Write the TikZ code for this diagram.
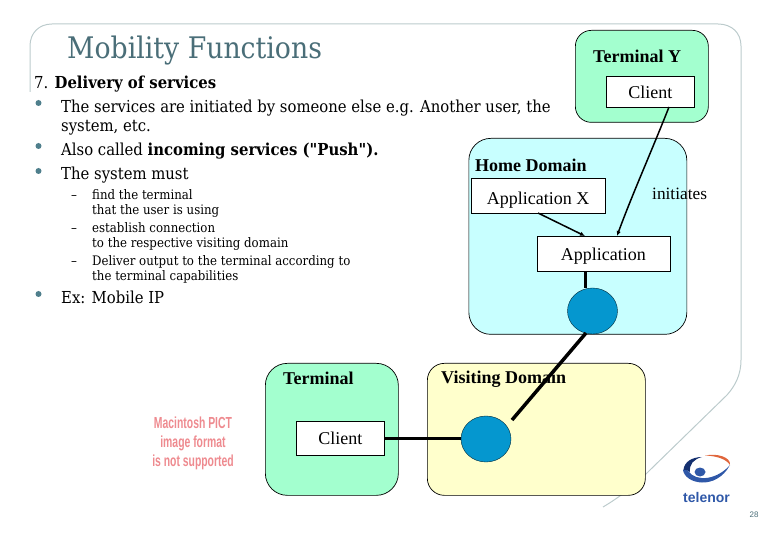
\documentclass[tikz,border=0pt]{standalone}
\usepackage{fontspec}
\setmainfont{Liberation Serif}
\newfontfamily\slidefont[FakeStretch=0.9]{DejaVu Serif}
\newfontfamily\logofont{Liberation Sans}
\newfontfamily\pictfont[FakeStretch=0.65]{Liberation Sans}
\usetikzlibrary{arrows.meta,shapes.geometric}
\definecolor{frameC}{HTML}{BCCBCC}
\definecolor{titleC}{HTML}{4A6E78}
\definecolor{bulletC}{HTML}{4F7F8C}
\definecolor{greenC}{HTML}{A3FFCF}
\definecolor{cyanC}{HTML}{C8FFFF}
\definecolor{yellowC}{HTML}{FFFFCC}
\definecolor{blueC}{HTML}{0597CF}
\definecolor{pictC}{HTML}{EE8A8F}
\definecolor{logoB}{HTML}{2F58A8}
\definecolor{logoD}{HTML}{14306F}
\definecolor{logoR}{HTML}{E0663C}
\tikzset{
  x=1pt,y=-1pt,
  domainbox/.style={draw=black,line width=.7pt,rounded corners=22pt,anchor=north west,inner sep=0pt},
  appbox/.style={draw=black,fill=white,line width=.6pt,anchor=north west,inner sep=0pt,text depth=4pt,font=\fontsize{18}{20}\selectfont},
  hub/.style={draw=black!70!blueC,fill=blueC,ellipse,inner sep=0pt,minimum width=50pt,minimum height=46pt},
  thick link/.style={line width=3pt,black},
  thin link/.style={line width=1.5pt,black,-{Latex[length=5pt,width=4.5pt]}},
  title text/.style={anchor=base west,inner sep=0pt,font=\bfseries\fontsize{18}{20}\selectfont},
  body/.style={anchor=base west,inner sep=0pt,font=\slidefont\fontsize{16.5}{19}\selectfont},
  small/.style={anchor=base west,inner sep=0pt,font=\slidefont\fontsize{13.1}{15}\selectfont},
  bullet/.style={circle,fill=bulletC,inner sep=0pt,minimum size=6pt},
  pict/.style={inner sep=0pt,text=pictC,font=\pictfont\bfseries\fontsize{16}{18}\selectfont}
}
\begin{document}
\begin{tikzpicture}
\useasboundingbox (0,0) rectangle (780,540);
\coordinate (f0) at (30,92);
\draw[frameC,line width=1pt] (f0) -- (30,46) .. controls (30,33) and (39,24) .. (52,24) -- (718,24) .. controls (732,24) and (741,33) .. (741,46) -- (741,360) .. controls (741,375) and (735,386) .. (727,395) -- (650,470) .. controls (635,485) and (620,497) .. (603,507);
\node[anchor=base west,inner sep=0pt,text=titleC,font=\slidefont\fontsize{29.7}{33}\selectfont] (title) at (67,59) {Mobility Functions};
\node[body] (l0) at (34,88.5) {7. \bfseries Delivery of services};
\node[bullet] (b1) at (38.5,103) {};
\node[body] (l1) at (61,113) {The services are initiated by someone else e.g. Another user, the};
\node[body] (l2) at (61,132) {system, etc.};
\node[bullet] (b2) at (38.5,146) {};
\node[body] (l3) at (61,156) {Also called \textbf{incoming services ("Push").}};
\node[bullet] (b3) at (38.5,171) {};
\node[body] (l4) at (61,180) {The system must};
\node[small] (d1) at (71,199.5) {–};
\node[small] (s1) at (92,199.5) {find the terminal};
\node[small] (s2) at (92,215) {that the user is using};
\node[small] (d2) at (71,233) {–};
\node[small] (s3) at (92,233) {establish connection};
\node[small] (s4) at (92,248) {to the respective visiting domain};
\node[small] (d3) at (71,266) {–};
\node[small] (s5) at (92,266) {Deliver output to the terminal according to};
\node[small] (s6) at (92,281) {the terminal capabilities};
\node[bullet] (b4) at (38.5,294) {};
\node[body] (l5) at (61,304) {Ex: Mobile IP};
% domains
\node[domainbox,fill=greenC,minimum width=133pt,minimum height=92pt,rounded corners=16pt] (ty) at (575,30) {};
\node[domainbox,fill=cyanC,minimum width=218pt,minimum height=196pt] (home) at (468.5,138) {};
\node[domainbox,fill=greenC,minimum width=133pt,minimum height=132pt] (term) at (265,363) {};
\node[domainbox,fill=yellowC,minimum width=218pt,minimum height=132pt,rounded corners=17pt] (visit) at (427,363) {};
\node[title text] (tyl) at (593,63) {Terminal Y};
\node[title text] (hdl) at (475,172) {Home Domain};
\node[title text] (tl) at (283,384.5) {Terminal};
\node[title text] (vl) at (441,384) {Visiting Domain};
\node[appbox,text height=18pt,minimum width=88pt,minimum height=31pt] (cy) at (606,76) {Client};
\node[appbox,text height=21pt,minimum width=133.5pt,minimum height=35pt] (ax) at (471,178) {Application X};
\node[appbox,text height=18pt,minimum width=133pt,minimum height=35pt] (app) at (536.5,236) {Application};
\node[appbox,text height=16pt,minimum width=88pt,minimum height=34pt] (ct) at (296,421) {Client};
\node[anchor=base west,inner sep=0pt,font=\fontsize{17.3}{19}\selectfont] (ini) at (652,200) {initiates};
\node[hub] (h1) at (592.5,311) {};
\node[hub] (h2) at (486,439) {};
% connectors
\coordinate (cyo) at (669,107);
\coordinate (appi) at (617,236);
\coordinate (axo) at (538,213);
\coordinate (appj) at (585,236);
\coordinate (appo) at (585.5,271);
\coordinate (h1t) at (585.5,288);
\coordinate (h1b) at (586,333);
\coordinate (h2e) at (512,420);
\draw[thin link] (cyo) .. controls (650,155) and (632,195) .. (appi);
\draw[thin link] (axo) -- (appj);
\draw[thick link] (appo) -- (h1t);
\draw[line width=3.5pt] (h1b) -- (h2e);
\draw[thick link] (ct.east |- 0,438) -- (h2.west |- 0,438);
% PICT placeholder
\node[pict] (p1) at (193,423) {Macintosh PICT};
\node[pict] (p2) at (193,443) {image format};
\node[pict] (p3) at (193,462) {is not supported};
% logo
\fill[logoB] (683,470) .. controls (685,484) and (716,491) .. (730,465) .. controls (718,479) and (697,483) .. (688,471) .. controls (686,468) and (684,468) .. (683,470) -- cycle;
\fill[logoD] (683.5,470) .. controls (684,462) and (692,457) .. (702,457) .. controls (694,459) and (689,464) .. (690,472) .. controls (687,470) and (685,469) .. (683.5,470) -- cycle;
\fill[logoR] (705,455.5) .. controls (717,453) and (731,457) .. (730,465) .. controls (726,459) and (717,456) .. (705,455.5) -- cycle;
\fill[logoB] (700,472) ellipse [x radius=5.5pt,y radius=4.5pt];
\node[anchor=base,inner sep=0pt,text=logoB,font=\logofont\bfseries\fontsize{14}{16}\selectfont] (logo) at (706.5,502) {telenor};
\node[anchor=base,inner sep=0pt,text=titleC,font=\logofont\fontsize{8}{10}\selectfont] (pg) at (754,517) {28};
\end{tikzpicture}
\end{document}
